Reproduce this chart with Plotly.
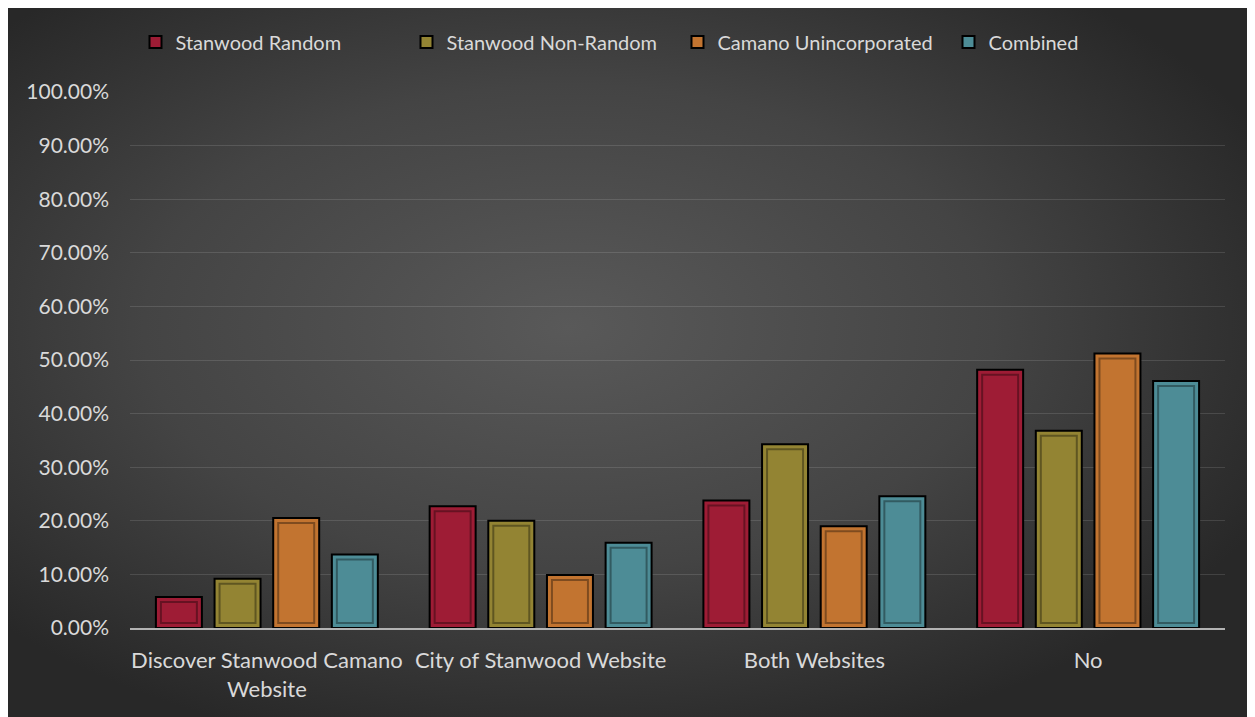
import base64
import plotly.graph_objects as go

categories = ["Discover Stanwood Camano<br>Website", "City of Stanwood Website", "Both Websites", "No"]
series_names = ["Stanwood Random", "Stanwood Non-Random", "Camano Unincorporated", "Combined"]
stanwood_random = [0.058, 0.227, 0.238, 0.482]
stanwood_nonrandom = [0.092, 0.200, 0.343, 0.368]
camano_uninc = [0.205, 0.099, 0.190, 0.512]
combined = [0.137, 0.159, 0.246, 0.461]
y_ticks = [i / 10 for i in range(11)]

colors = ["#9e1c35", "#938433", "#c27430", "#4d8c96"]
values = [stanwood_random, stanwood_nonrandom, camano_uninc, combined]

# page body has an 8px margin; figure sized to fill the rest of the window
W, H = 1247, 709
L, R, T, B = 122, 30, 84, 89
pw, ph = W - L - R, H - T - B

BARGAP, GROUPGAP = 0.143, 0.216
n = len(series_names)
slot = (1 - BARGAP) / n
bar_w = slot * (1 - GROUPGAP)
px_x = len(categories) / pw      # category units per pixel
px_y = 1.0 / ph                  # y units per pixel
inset = 5

svg = (
    f'<svg xmlns="http://www.w3.org/2000/svg" width="{W}" height="{H}" viewBox="0 0 {W} {H}">'
    '<defs><radialGradient id="g" cx="45%" cy="45%" r="62%" gradientUnits="objectBoundingBox">'
    '<stop offset="0" stop-color="#595959"/><stop offset="0.55" stop-color="#444444"/>'
    '<stop offset="1" stop-color="#282828"/></radialGradient></defs>'
    f'<rect width="{W}" height="{H}" fill="url(#g)"/></svg>'
)
src = "data:image/svg+xml;base64," + base64.b64encode(svg.encode()).decode()

fig = go.Figure()
for name, vals, col in zip(series_names, values, colors):
    fig.add_trace(go.Bar(
        name=name, x=categories, y=vals,
        marker=dict(color=col, line=dict(color="#000000", width=2)),
    ))

# inner bevel outline of each bar (style only, follows the same data)
in_w = bar_w - 2 * inset * px_x
for i, vals in enumerate(values):
    fig.add_trace(go.Bar(
        x=categories, y=[v - 2 * inset * px_y for v in vals], base=inset * px_y,
        width=in_w, offset=(i - (n - 1) / 2) * slot - in_w / 2,
        marker=dict(color="rgba(0,0,0,0)", line=dict(color="rgba(0,0,0,0.35)", width=2)),
        showlegend=False, hoverinfo="skip",
    ))

font_family = "Lato, 'Open Sans', sans-serif"
fig.update_layout(
    width=W, height=H,
    margin=dict(l=L, r=R, t=T, b=B),
    paper_bgcolor="#2a2a2a",
    plot_bgcolor="rgba(0,0,0,0)",
    barmode="group",
    bargap=BARGAP,
    bargroupgap=GROUPGAP,
    font=dict(family=font_family, size=20, color="#d9d9d9"),
    legend=dict(orientation="h", x=0.5, xanchor="center", y=1.0 + 50 / ph, yanchor="middle",
                font=dict(size=20, color="#d9d9d9"), bgcolor="rgba(0,0,0,0)", itemwidth=30,
                entrywidth=226, entrywidthmode="pixels"),
    images=[dict(source=src, xref="paper", yref="paper",
                 x=-L / pw, y=(H - B) / ph, sizex=W / pw, sizey=H / ph,
                 xanchor="left", yanchor="top", sizing="stretch", layer="below")],
    xaxis=dict(showline=True, linecolor="#b3b3b3", linewidth=2, showgrid=False,
               ticks="", tickfont=dict(size=22, color="#d9d9d9"), ticklabelstandoff=12),
    yaxis=dict(range=[0, 1], tickvals=y_ticks, tickformat=".2%", showgrid=True,
               gridcolor="rgba(255,255,255,0.12)", gridwidth=1, zeroline=False,
               showline=False, ticks="", ticklabelstandoff=20,
               tickfont=dict(size=21, color="#d9d9d9")),
)

fig.write_html("out.html")
